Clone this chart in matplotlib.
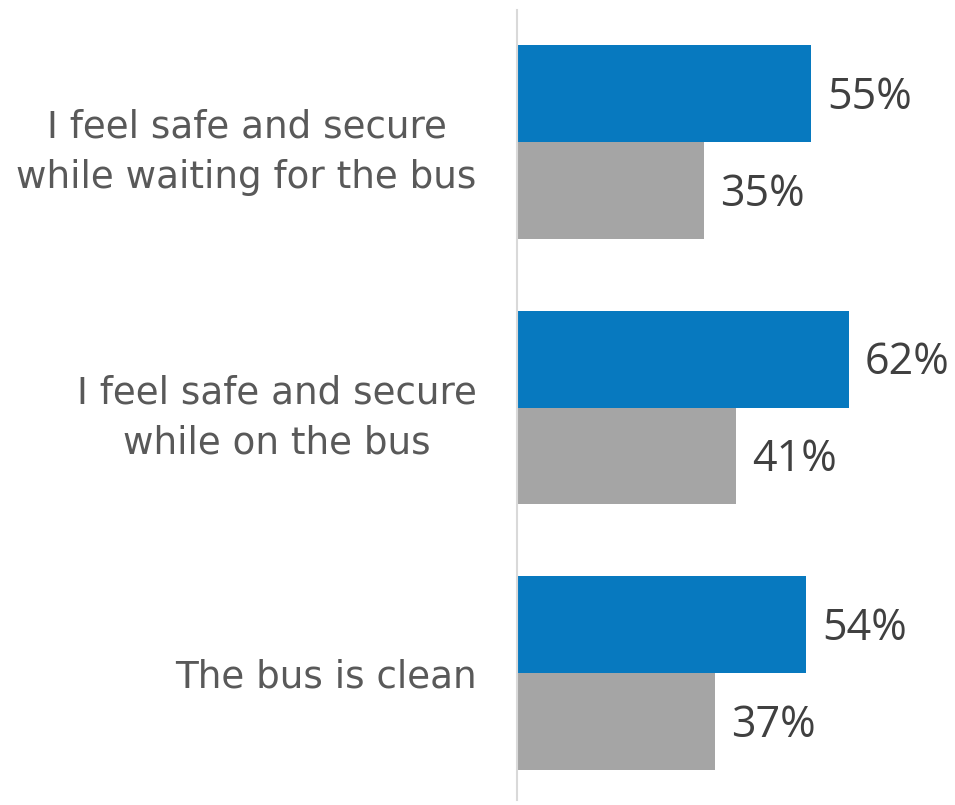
import numpy as np
import matplotlib.pyplot as plt

# survey statements and agreement shares
statements = [
    "I feel safe and secure\nwhile waiting for the bus",
    "I feel safe and secure\nwhile on the bus",
    "The bus is clean",
]
current = [55, 62, 54]
previous = [35, 41, 37]

BLUE = "#0779BF"
GREY = "#A5A5A5"

fig = plt.figure(figsize=(9.55, 8.05), dpi=100)
ax = fig.add_axes([517 / 955, 5 / 805, 428 / 955, 790 / 805])

y = np.arange(len(statements))
h = 0.365

ax.barh(y - h / 2, current, height=h, color=BLUE)
ax.barh(y + h / 2, previous, height=h, color=GREY)

for yi, v in zip(y - h / 2, current):
    ax.text(v + 3, yi + 0.015, f"{v}%", va="center", ha="left",
            fontsize=31, color="#404040", family="Open Sans")
for yi, v in zip(y + h / 2, previous):
    ax.text(v + 3, yi + 0.015, f"{v}%", va="center", ha="left",
            fontsize=31, color="#404040", family="Open Sans")

ax.set_xlim(0, 80)
ax.set_ylim(2.478, -0.497)

ax.set_yticks(y)
ax.set_yticklabels(statements, fontsize=26.8, color="#595959",
                   family="DejaVu Sans", multialignment="center",
                   linespacing=1.45)
ax.tick_params(axis="y", length=0, pad=29)
ax.set_xticks([])

for s in ["top", "right", "bottom"]:
    ax.spines[s].set_visible(False)
ax.spines["left"].set_color("#D9D9D9")
ax.spines["left"].set_linewidth(1.5)

fig.savefig("out.png", dpi=100)
